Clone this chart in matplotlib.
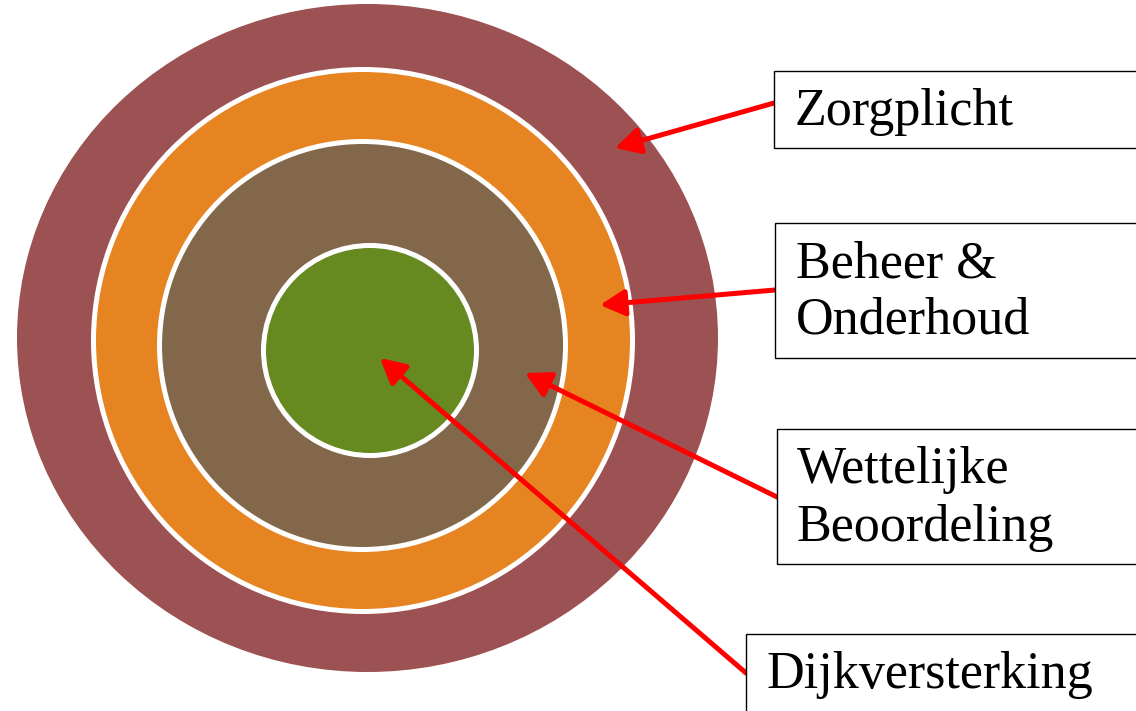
import matplotlib
matplotlib.use("Agg")
import matplotlib.pyplot as plt
from matplotlib.patches import Ellipse, Rectangle, FancyArrowPatch

# rings, outermost first: centre x, centre y, width, height (pixels)
ring_names = ["Zorgplicht", "Beheer & Onderhoud", "Wettelijke Beoordeling", "Dijkversterking"]
ring_colors = ["#9c5153", "#e68422", "#83674a", "#668920"]
ring_cx = [367.5, 363, 362.5, 370]
ring_cy = [338, 340.5, 345.5, 350.5]
ring_w = [701, 539, 406, 213]
ring_h = [668, 542, 408, 210]
ring_edge = [0, 5, 5, 5]

# label boxes: lines of text, box left/top/bottom, text x, baselines
labels = [["Zorgplicht"], ["Beheer &", "Onderhoud"], ["Wettelijke", "Beoordeling"], ["Dijkversterking"]]
box_x = [774, 775, 777, 746]
box_top = [71, 223, 429, 634]
box_bot = [148, 358, 564, 720]
text_x = [795, 796, 797, 767]
baselines = [[125], [278, 334], [483, 541], [688]]

# arrows: start (at box) -> tip
arr_start = [(774, 103), (775, 290), (777, 497), (746, 673)]
arr_tip = [(615, 148), (600, 305), (525, 373), (380, 358)]

W, H = 1136, 711
fig = plt.figure(figsize=(W / 100, H / 100), dpi=100)
ax = fig.add_axes([0, 0, 1, 1])
ax.set_xlim(0, W)
ax.set_ylim(H, 0)
ax.axis("off")

px = 72 / 100  # points per pixel

for i in range(len(ring_colors)):
    ax.add_patch(Ellipse((ring_cx[i], ring_cy[i]), ring_w[i], ring_h[i],
                         facecolor=ring_colors[i],
                         edgecolor="white" if ring_edge[i] else "none",
                         linewidth=ring_edge[i] * px, zorder=1 + i))

for i in range(len(labels)):
    ax.add_patch(Rectangle((box_x[i], box_top[i]), W + 10 - box_x[i], box_bot[i] - box_top[i],
                           facecolor="white", edgecolor="black", linewidth=1.0, zorder=10))
    for line, yb in zip(labels[i], baselines[i]):
        ax.text(text_x[i], yb, line, fontsize=37.5, family="Liberation Serif",
                va="baseline", ha="left", zorder=11)

for s, t in zip(arr_start, arr_tip):
    ax.add_patch(FancyArrowPatch(s, t, arrowstyle="-|>,head_length=0.75,head_width=0.4",
                                 mutation_scale=20, color="red", linewidth=5 * px,
                                 shrinkA=0, shrinkB=0, zorder=9))

fig.savefig("out.png", dpi=100)
